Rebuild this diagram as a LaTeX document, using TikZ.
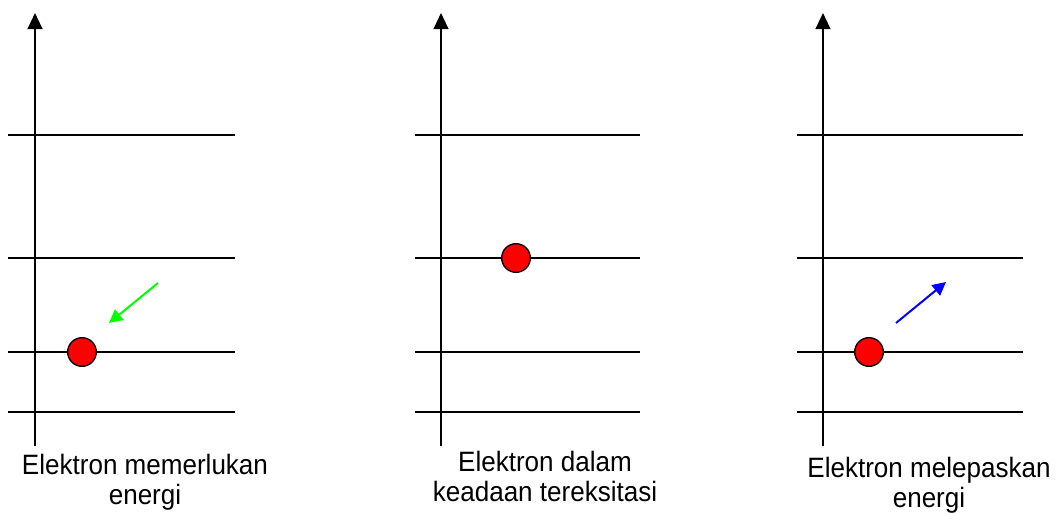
\documentclass[tikz,border=0pt]{standalone}
\usepackage{fontspec}
\setmainfont[FakeStretch=0.93]{Liberation Sans}
\usetikzlibrary{arrows.meta,positioning}
\definecolor{elecRed}{HTML}{FF0000}
\definecolor{absorbGreen}{HTML}{00FF00}
\definecolor{emitBlue}{HTML}{0000FF}
\tikzset{
  levelaxis/.style={draw=black, line width=1.6pt, -{Triangle[length=12pt,width=11pt]}},
  levelline/.style={draw=black, line width=1pt},
  electron/.style={circle, draw=black, fill=elecRed, line width=1pt,
    minimum size=21.5pt, inner sep=0pt},
  absorbarrow/.style={-{Triangle[length=10pt,width=10pt]}, draw=absorbGreen, line width=1.5pt},
  emitarrow/.style={-{Triangle[length=10pt,width=10pt]}, draw=emitBlue, line width=1.5pt},
  caption/.style={font=\fontsize{21}{22.5}\selectfont, align=center, inner sep=0pt, anchor=north}
}
\begin{document}
\begin{tikzpicture}[x=0.75pt, y=-0.75pt]
\useasboundingbox (0,0) rectangle (1058,514);
% energy axes and levels, one panel each
\foreach \ax/\lx/\rx/\p in {35/8/235/1, 441/415/640/2, 823/797/1023/3} {
  \coordinate (ax\p-bot) at (\ax,446);
  \coordinate (ax\p-top) at (\ax,13);
  \draw[levelaxis] (ax\p-bot) -- (ax\p-top);
  \foreach \ly in {135,258,352,412}
    \draw[levelline] (\lx,\ly) -- (\rx,\ly);
}

\node[electron] (e1) at (82,352) {};
\node[electron] (e2) at (516,258) {};
\node[electron] (e3) at (869,352) {};

\coordinate (g-from) at (158,283);
\coordinate (g-to) at (109,323);
\draw[absorbarrow] (g-from) -- (g-to);
\coordinate (b-from) at (896,323);
\coordinate (b-to) at (946,282);
\draw[emitarrow] (b-from) -- (b-to);

\node[caption] (c1) at (145,454) {Elektron memerlukan\\energi};
\node[caption] (c2) at (545,451) {Elektron dalam\\keadaan tereksitasi};
\node[caption] (c3) at (929,457) {Elektron melepaskan\\energi};
\end{tikzpicture}
\end{document}
